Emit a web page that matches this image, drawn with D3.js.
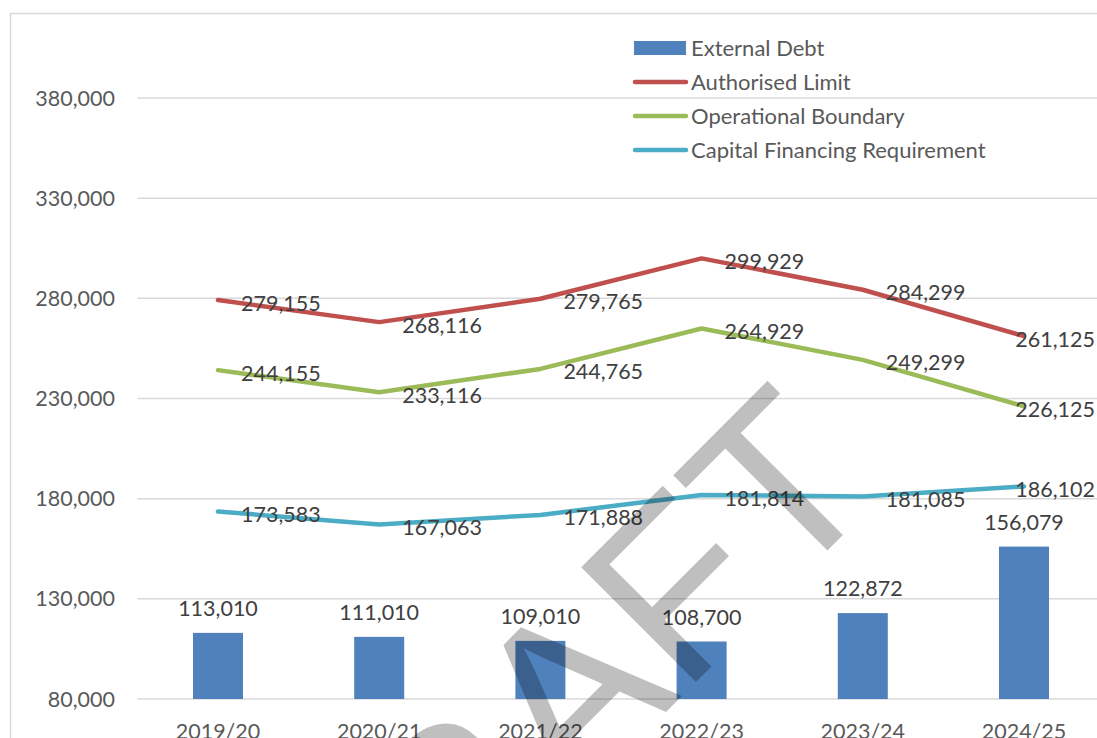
<!DOCTYPE html>
<html>
<head>
<meta charset="utf-8">
<script src="https://cdn.jsdelivr.net/npm/d3@7"></script>
<style>
  html, body { margin: 0; padding: 0; background: #fff; overflow: hidden; }
  svg { display: block; font-family: Lato, "Open Sans", sans-serif; }
</style>
</head>
<body>
<div id="chart"></div>
<script>
const years = ["2019/20", "2020/21", "2021/22", "2022/23", "2023/24", "2024/25"];
const externalDebt = [113010, 111010, 109010, 108700, 122872, 156079];
const authorisedLimit = [279155, 268116, 279765, 299929, 284299, 261125];
const operationalBoundary = [244155, 233116, 244765, 264929, 249299, 226125];
const capitalFinancing = [173583, 167063, 171888, 181814, 181085, 186102];
const yTicks = [80000, 130000, 180000, 230000, 280000, 330000, 380000];

const lineSeries = [
    {name: "Authorised Limit", values: authorisedLimit, color: "#C0504D"},
    {name: "Operational Boundary", values: operationalBoundary, color: "#9BBB59"},
    {name: "Capital Financing Requirement", values: capitalFinancing, color: "#4BACC6"}
];
const barColor = "#4F81BD";

const svg_width = 1097;
const svg_height = 738;
const fmt = d3.format(",");

const svg = d3.select("#chart").append("svg")
    .attr("width", svg_width)
    .attr("height", svg_height);

// outer chart border (runs off the right and bottom of the picture)
svg.append("rect")
    .attr("x", 10.5).attr("y", 13.5)
    .attr("width", 1200).attr("height", 800)
    .attr("fill", "none")
    .attr("stroke", "#D9D9D9")
    .attr("stroke-width", 1.5);

const plotLeft = 137.4;
const band = 161.2;

const x = d3.scaleBand()
    .domain(years)
    .range([plotLeft, plotLeft + band * years.length]);

const y = d3.scaleLinear()
    .domain([80000, 380000])
    .range([699, 98]);

const cx = d => x(d) + x.bandwidth() / 2;

// gridlines
svg.append("g")
    .selectAll("line")
    .data(yTicks)
    .enter().append("line")
    .attr("x1", plotLeft)
    .attr("x2", plotLeft + band * years.length)
    .attr("y1", d => y(d))
    .attr("y2", d => y(d))
    .attr("stroke", "#D9D9D9")
    .attr("stroke-width", 1.5);

// y axis labels
svg.append("g")
    .selectAll("text")
    .data(yTicks)
    .enter().append("text")
    .attr("x", 115)
    .attr("y", d => y(d))
    .attr("dy", "0.35em")
    .attr("text-anchor", "end")
    .attr("fill", "#595959")
    .style("font-size", "21.5px")
    .text(d => fmt(d));

// x axis labels (bottom of chart is cropped in the picture)
svg.append("g")
    .selectAll("text")
    .data(years)
    .enter().append("text")
    .attr("x", d => cx(d))
    .attr("y", 739)
    .attr("text-anchor", "middle")
    .attr("fill", "#595959")
    .style("font-size", "21.5px")
    .text(d => d);

// bars
const barW = 50;
svg.append("g")
    .selectAll("rect")
    .data(years)
    .enter().append("rect")
    .attr("x", d => cx(d) - barW / 2)
    .attr("y", (d, i) => y(externalDebt[i]))
    .attr("width", barW)
    .attr("height", (d, i) => y(80000) - y(externalDebt[i]))
    .attr("fill", barColor);

svg.append("g")
    .selectAll("text")
    .data(years)
    .enter().append("text")
    .attr("x", d => cx(d))
    .attr("y", (d, i) => y(externalDebt[i]) - 17)
    .attr("text-anchor", "middle")
    .attr("fill", "#404040")
    .style("font-size", "21.5px")
    .text((d, i) => fmt(externalDebt[i]));

// lines
const line = d3.line()
    .x((d, i) => cx(years[i]))
    .y(d => y(d));

const last = years.length - 1;
lineSeries.forEach(s => {
    svg.append("path")
        .datum(s.values)
        .attr("d", line)
        .attr("fill", "none")
        .attr("stroke", s.color)
        .attr("stroke-width", 4.5)
        .attr("stroke-linecap", "round")
        .attr("stroke-linejoin", "round");

    // labels sit right of the point; the last one is pulled back inside the chart
    svg.append("g")
        .selectAll("text")
        .data(s.values)
        .enter().append("text")
        .attr("x", (d, i) => i === last ? 1095 : cx(years[i]) + 23)
        .attr("text-anchor", (d, i) => i === last ? "end" : "start")
        .attr("y", d => y(d) + 3)
        .attr("dy", "0.35em")
        .attr("fill", "#404040")
        .style("font-size", "21.5px")
        .text(d => fmt(d));
});

// legend
const legend = svg.append("g").attr("transform", "translate(633,48)");
const rowH = 34;
legend.append("rect")
    .attr("x", 1).attr("y", -7)
    .attr("width", 52).attr("height", 14)
    .attr("fill", barColor);
legend.append("text")
    .attr("x", 58).attr("y", 0).attr("dy", "0.35em")
    .attr("fill", "#595959")
    .style("font-size", "22px")
    .text("External Debt");

lineSeries.forEach((s, i) => {
    const ly = (i + 1) * rowH;
    legend.append("line")
        .attr("x1", 2).attr("x2", 53)
        .attr("y1", ly).attr("y2", ly)
        .attr("stroke", s.color)
        .attr("stroke-width", 4.5)
        .attr("stroke-linecap", "round");
    legend.append("text")
        .attr("x", 58).attr("y", ly).attr("dy", "0.35em")
        .attr("fill", "#595959")
        .style("font-size", "22px")
        .text(s.name);
});

// DRAFT watermark
svg.append("text")
    .attr("transform", "translate(608,770) rotate(-45)")
    .attr("text-anchor", "middle")
    .attr("fill", "#000")
    .attr("fill-opacity", 0.25)
    .style("font-family", "'Liberation Sans', Arial, sans-serif")
    .style("font-size", "236px")
    .text("DRAFT");
</script>
</body>
</html>
